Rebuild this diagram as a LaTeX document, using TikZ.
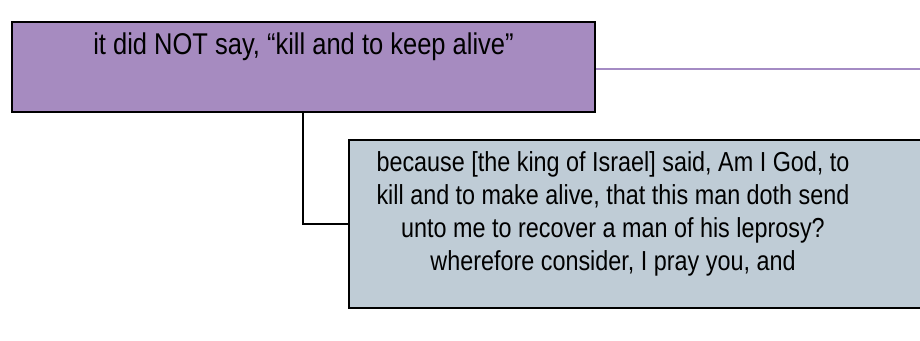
\documentclass[tikz,border=0pt]{standalone}
\usepackage{fontspec}
\newfontfamily\narrowsans[FakeStretch=0.85]{Liberation Sans}
\usetikzlibrary{positioning}

\definecolor{claimfill}{HTML}{A68BC0}
\definecolor{reasonfill}{HTML}{BFCCD6}
\definecolor{linkline}{HTML}{A48BC4}

\begin{document}
\begin{tikzpicture}[x=1pt, y=-1pt,
  box/.style={draw=black, line width=2.4pt, rectangle, inner sep=0pt},
  claimbox/.style={box, fill=claimfill, minimum width=583pt, minimum height=90pt},
  reasonbox/.style={box, fill=reasonfill, minimum width=620pt, minimum height=168pt},
  words/.style={inner sep=0pt, align=center, text=black},
  elbowline/.style={draw=black, line width=1.8pt}]
\useasboundingbox (0,0) rectangle (920,340);
\clip (0,0) rectangle (920,340);

% the two boxes
\node[claimbox] (claim) at (303.5,67) {};
\node[words, anchor=base, font=\narrowsans\fontsize{30}{36}\selectfont] (claimtext) at (303.5,54)
  {it did NOT say, “kill and to keep alive”};

\node[reasonbox] (reason) at (659,224) {};
\node[words, anchor=base, font=\narrowsans\fontsize{27.5}{33}\selectfont] (reasontext) at (613,270)
  {because [the king of Israel] said, Am I God, to\\
   kill and to make alive, that this man doth send\\
   unto me to recover a man of his leprosy?\\
   wherefore consider, I pray you, and};

% connectors
\coordinate (offright) at (925,69);
\draw[linkline, line width=2pt] (claim.east |- offright) -- (offright);

\coordinate (elbow) at (303,225);
\draw[elbowline] (claim.south -| elbow) |- (reason.west);
\end{tikzpicture}
\end{document}
